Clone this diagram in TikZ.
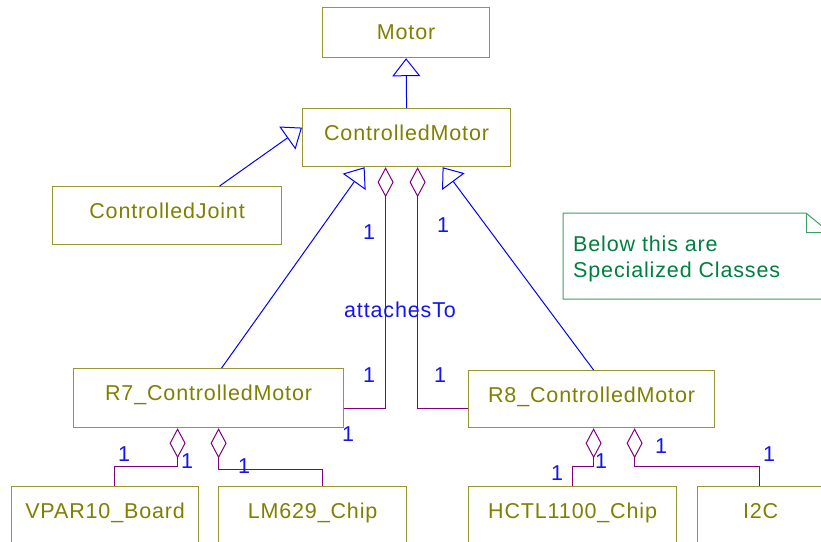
\documentclass[tikz,border=0pt]{standalone}
\usepackage{fontspec}
\setmainfont{Liberation Sans}[LetterSpace=4.0]
\usetikzlibrary{arrows.meta}

\definecolor{clsline}{RGB}{150,150,50}
\definecolor{clstext}{RGB}{128,128,0}
\definecolor{genblue}{RGB}{0,0,255}
\definecolor{aggpurple}{RGB}{128,0,128}
\definecolor{multblue}{RGB}{20,20,240}
\definecolor{noteline}{RGB}{60,160,100}
\definecolor{notetext}{RGB}{0,128,64}

\begin{document}
\begin{tikzpicture}[x=1pt, y=-1pt,
    font=\fontsize{21.5pt}{26pt}\selectfont,
    cls/.style 2 args={draw=clsline, fill=white, text=clstext, line width=1.2pt,
        inner sep=0pt, anchor=north west, text height=32pt,
        minimum width=#1, text depth=#2},
    gen/.style={draw=genblue, line width=1pt, -{Triangle[open, length=18pt, width=28pt]}},
    agg/.style={draw=aggpurple, line width=1pt, -{Diamond[open, length=30pt, width=16pt]}},
    mult/.style={text=multblue, inner sep=0pt, text height=15.4pt, text depth=0pt}]

    % --- 1. 範囲 ---
    \useasboundingbox (0,0) rectangle (821,541);
    \pgfmathsetmacro{\rowb}{486}

    % --- 2. クラス ---
    \node[cls={167pt}{18pt}] (motor) at (322,7)   {Motor};
    \node[cls={208pt}{26pt}] (cm)    at (302,108) {ControlledMotor};
    \node[cls={229pt}{26pt}] (cj)    at (52,186)  {ControlledJoint};
    \node[cls={270pt}{27pt}] (r7)    at (73,368)  {R7\_ControlledMotor};
    \node[cls={246pt}{25pt}] (r8)    at (468,370) {R8\_ControlledMotor};
    \node[cls={187pt}{28pt}] (vpar)  at (11,\rowb)  {VPAR10\_Board};
    \node[cls={188pt}{28pt}] (lm)    at (218,\rowb) {LM629\_Chip};
    \node[cls={208pt}{28pt}] (hctl)  at (468,\rowb) {HCTL1100\_Chip};
    \node[cls={126pt}{28pt}] (i2c)   at (697,\rowb) {I2C};

    % --- 3. 継承 ---
    \draw[gen] (cm.north) -- (motor.south);
    \draw[gen] ([xshift=52.5pt]cj.north) -- ([yshift=10pt]cm.west);
    \draw[gen] ([xshift=13pt]r7.north) -- ([xshift=-42pt]cm.south);
    \draw[gen] ([xshift=2pt]r8.north) -- ([xshift=36pt]cm.south);

    % --- 4. 集約 ---
    \draw[agg] ([yshift=-10.5pt]r7.east) -| ([xshift=-21pt]cm.south);
    \draw[agg] ([yshift=-9.5pt]r8.west) -| ([xshift=11pt]cm.south);
    \draw[agg] ([xshift=9.5pt]vpar.north) -- ++(0,-20) -| ([xshift=-31pt]r7.south);
    \draw[agg] ([xshift=10pt]lm.north) -- ++(0,-17) -| ([xshift=10pt]r7.south);
    \draw[agg] (hctl.north) -- ++(0,-20) -| ([xshift=2pt]r8.south);
    \draw[agg] ([xshift=-1pt]i2c.north) -- ++(0,-20) -| ([xshift=43pt]r8.south);

    % --- 5. 多重度とラベル ---
    \foreach \n/\x/\y in {a/369/232, b/443/225, c/369/375, d/440/375,
                          e/348/434, f/124/454, g/187/461, h/244/466,
                          i/601/461, j/557/473, k/661/446, l/769/454} {
        \node[mult] (m\n) at (\x,\y) {1};
    }
    \node[mult] (attach) at (400,310) {attachesTo};

    % --- 6. ノート ---
    \draw[noteline, line width=1pt] (563,213) -- (806,213) -- (829,232)
        -- (829,299) -- (563,299) -- cycle;
    \draw[noteline, line width=1pt] (806,213) |- (829,232);
    \node[text=notetext, inner sep=0pt, anchor=north west, align=left] (note)
        at (573,236) {Below this are\\Specialized Classes};

\end{tikzpicture}
\end{document}
